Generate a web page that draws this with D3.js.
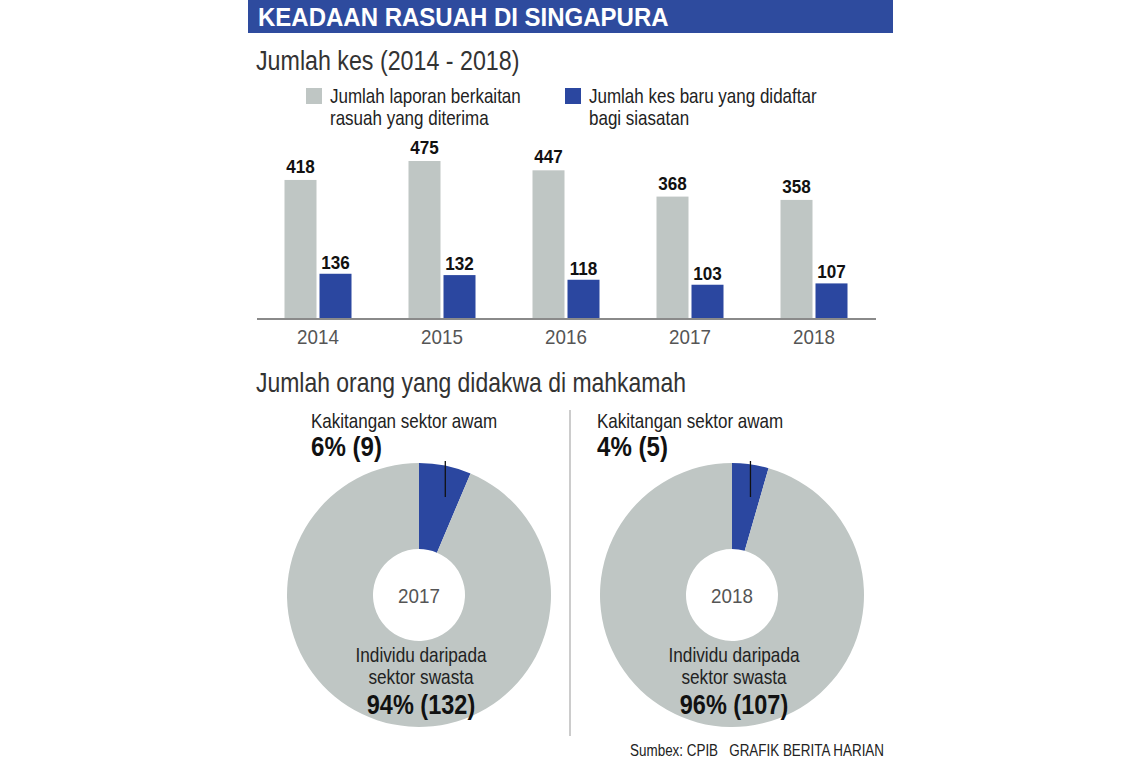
<!DOCTYPE html>
<html>
<head>
<meta charset="utf-8">
<script src="https://cdn.jsdelivr.net/npm/d3@7"></script>
<style>
  html, body { margin: 0; padding: 0; background: #fff; }
  svg text { font-family: 'Liberation Sans', Arial, sans-serif; }
</style>
</head>
<body>
<div id="chart"></div>
<script>
'use strict';

// bar chart data
const years = ['2014', '2015', '2016', '2017', '2018'];
const reports = [418, 475, 447, 368, 358];
const newCases = [136, 132, 118, 103, 107];
const legendLabels = [
  ['Jumlah laporan berkaitan', 'rasuah yang diterima'],
  ['Jumlah kes baru yang didaftar', 'bagi siasatan'],
];

// donut data
const donutYears = ['2017', '2018'];
const publicCounts = [9, 5];
const privateCounts = [132, 107];
const publicPct = ['6%', '4%'];
const privatePct = ['94%', '96%'];

const GREY = '#bfc6c4';
const BLUE = '#2b47a0';
const NARROW = 0.82;

const width = 1140;
const height = 760;

const svg = d3
  .select('#chart')
  .append('svg')
  .attr('width', width)
  .attr('height', height);

// condensed text: the original uses a narrow face, so squeeze horizontally
// str may be an array -> one text with a tspan per line
const label = (parent, x, y, str, opts) => {
  const o = Object.assign(
    { size: 20, weight: 'normal', fill: '#222', anchor: 'start', sx: NARROW, lh: 20 },
    opts
  );
  const t = parent
    .append('text')
    .attr('transform', `translate(${x},${y}) scale(${o.sx},1)`)
    .attr('text-anchor', o.anchor)
    .attr('fill', o.fill)
    .style('font-size', o.size + 'px')
    .style('font-weight', o.weight);
  if (Array.isArray(str)) {
    t.selectAll('tspan')
      .data(str)
      .enter()
      .append('tspan')
      .attr('x', 0)
      .attr('y', (d, j) => j * o.lh)
      .text((d) => d);
  } else {
    t.text(str);
  }
  return t;
};

// header
svg
  .append('rect')
  .attr('x', 248)
  .attr('y', 0)
  .attr('width', 645)
  .attr('height', 33)
  .attr('fill', '#2e4b9e');

label(svg, 258, 26, 'KEADAAN RASUAH DI SINGAPURA', {
  size: 25,
  weight: 'bold',
  fill: '#fff',
  sx: 0.96,
});

label(svg, 256, 70, 'Jumlah kes (2014 - 2018)', { size: 28, fill: '#333', sx: 0.83 });

// legend
const legendX = [306, 565];
[GREY, BLUE].forEach((c, i) => {
  const lg = svg.append('g').attr('transform', `translate(${legendX[i]},0)`);
  lg.append('rect')
    .attr('x', 0)
    .attr('y', 88)
    .attr('width', 16)
    .attr('height', 16)
    .attr('fill', c);
  label(lg, 24, 103, legendLabels[i], { size: 20, sx: 0.85, lh: 22.5 });
});

// bars
const x = d3.scaleBand().domain(years).range([256, 876]);
const y = d3.scaleLinear().domain([0, 475]).range([319, 161]);
const barW = 32;
const gap = 3;

const groups = svg
  .selectAll('.year')
  .data(years)
  .enter()
  .append('g')
  .attr('class', 'year')
  .attr('transform', (d) => `translate(${x(d) + x.bandwidth() / 2},0)`);

groups
  .append('rect')
  .attr('x', -barW - gap / 2)
  .attr('y', (d, i) => y(reports[i]))
  .attr('width', barW)
  .attr('height', (d, i) => y(0) - y(reports[i]))
  .attr('fill', GREY);

groups
  .append('rect')
  .attr('x', gap / 2)
  .attr('y', (d, i) => y(newCases[i]))
  .attr('width', barW)
  .attr('height', (d, i) => y(0) - y(newCases[i]))
  .attr('fill', BLUE);

groups.each(function(d, i) {
  const g = d3.select(this);
  label(g, -barW / 2 - gap / 2, y(reports[i]) - 7, reports[i], {
    size: 18,
    weight: 'bold',
    fill: '#111',
    anchor: 'middle',
    sx: 0.95,
  });
  label(g, barW / 2 + gap / 2, y(newCases[i]) - 5, newCases[i], {
    size: 18,
    weight: 'bold',
    fill: '#111',
    anchor: 'middle',
    sx: 0.95,
  });
});

const xAxis = svg
  .append('g')
  .attr('transform', `translate(0,${y(0)})`)
  .call(d3.axisBottom(x).tickSize(0).tickPadding(10));
xAxis
  .select('.domain')
  .attr('stroke', '#8a8a8a')
  .attr('stroke-width', 2)
  .attr('d', 'M257,0H876');
xAxis
  .selectAll('.tick text')
  .attr('fill', '#555')
  .attr('dy', '0.75em')
  .attr('transform', 'scale(0.94,1)')
  .style('font-size', '20px')
  .style('font-family', "'Liberation Sans', Arial, sans-serif");

// second section
label(svg, 256, 392, 'Jumlah orang yang didakwa di mahkamah', { size: 28, fill: '#333' });

svg
  .append('line')
  .attr('x1', 570)
  .attr('x2', 570)
  .attr('y1', 410)
  .attr('y2', 736)
  .attr('stroke', '#bbb')
  .attr('stroke-width', 1.5);

const centers = [419, 732];
const cy = 595;
const outerR = 132;
const innerR = 46;
const pie = d3.pie().sort(null).value((d) => d);
const arc = d3.arc().innerRadius(innerR).outerRadius(outerR);
const labelX = [311, 597];

donutYears.forEach((yr, i) => {
  const g = svg.append('g').attr('transform', `translate(${centers[i]},${cy})`);
  const slices = pie([publicCounts[i], privateCounts[i]]);
  g.selectAll('path')
    .data(slices)
    .enter()
    .append('path')
    .attr('d', arc)
    .attr('fill', (d, j) => (j === 0 ? BLUE : GREY));

  const mid = (slices[0].startAngle + slices[0].endAngle) / 2;
  const lx = Math.sin(mid) * outerR;
  g.append('line')
    .attr('x1', lx)
    .attr('x2', lx)
    .attr('y1', -outerR - 2)
    .attr('y2', -outerR + 34)
    .attr('stroke', '#111')
    .attr('stroke-width', 1.3);

  label(g, 0, 8, yr, { size: 20, fill: '#555', anchor: 'middle', sx: 0.94 });
  label(g, 2, 67, ['Individu daripada', 'sektor swasta'], {
    size: 21,
    anchor: 'middle',
    lh: 22,
  });
  label(g, 2, 119, `${privatePct[i]} (${privateCounts[i]})`, {
    size: 28,
    weight: 'bold',
    fill: '#111',
    anchor: 'middle',
    sx: 0.84,
  });

  label(svg, labelX[i], 428, 'Kakitangan sektor awam', { size: 21, sx: 0.81 });
  label(svg, labelX[i], 456, `${publicPct[i]} (${publicCounts[i]})`, {
    size: 28,
    weight: 'bold',
    fill: '#111',
    sx: 0.86,
  });
});

label(svg, 884, 756, 'Sumbex: CPIB\u00a0\u00a0 GRAFIK BERITA HARIAN', {
  size: 17,
  anchor: 'end',
  sx: 0.79,
});
</script>
</body>
</html>
